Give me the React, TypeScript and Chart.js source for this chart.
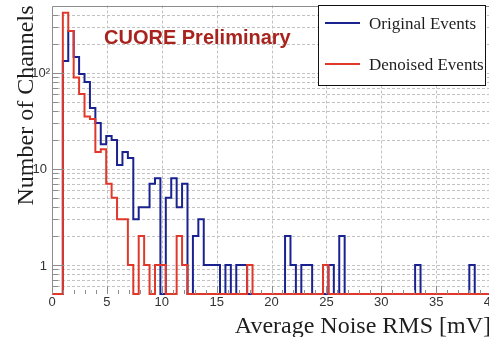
import React, { useEffect, useRef } from "react";
import { Chart, registerables } from "chart.js";

Chart.register(...registerables);

// ---- data ----
const X_MIN = 0;
const X_MAX = 40;
const Y_MIN = 0.5;
const Y_MAX = 500;
const BIN_WIDTH = 40 / 81; // histogram bin width (mV)

const X_TICK_VALUES = [0, 5, 10, 15, 20, 25, 30, 35, 40];
const X_TICK_LABELS = ["0", "5", "10", "15", "20", "25", "30", "35", "40"];
const Y_TICK_VALUES = [1, 10, 100];
const Y_TICK_LABELS = ["1", "10", "10\u00B2"];

const SERIES_LABELS = ["Original Events", "Denoised Events"];

// counts per bin, bin k spans [k*BIN_WIDTH, (k+1)*BIN_WIDTH]
const ORIGINAL_COUNTS = [
  0, 0, 132, 271, 146, 97, 80, 43, 30, 18, 22, 20, 11, 15, 13,
  3, 4, 4, 7, 8, 0, 5, 8, 4, 7, 0, 2, 3, 1, 1, 1, 0, 1, 0, 1, 1, 0,
  0, 0, 0, 0, 0, 0, 2, 1, 0, 1, 1, 0, 0, 0, 1, 0, 2,
  0, 0, 0, 0, 0, 0, 0, 0, 0, 0, 0, 0, 0, 1,
  0, 0, 0, 0, 0, 0, 0, 0, 0, 1, 0, 0, 0,
];
const DENOISED_COUNTS = [
  0, 0, 420, 271, 89, 60, 35, 33, 15, 16, 7, 5, 3, 3, 1,
  0, 2, 1, 0, 1, 1, 0, 0, 2, 1,
  0, 0, 0, 0, 0, 0, 0, 0, 0, 0, 0, 1,
  0, 0, 0, 0, 0, 0, 0, 0, 0, 0, 0, 0, 0, 1,
  0, 0, 0, 0, 0, 0, 0, 0, 0, 0, 0, 0, 0, 0, 0, 0, 0, 0, 0, 0, 0, 0, 0, 0, 0, 0, 0, 0, 0, 0,
];

const BLUE = "#1a2290";
const RED = "#e0392b";
const SANS = '"Liberation Sans", Arial, Helvetica, sans-serif';
const SERIF = '"Liberation Serif", "Times New Roman", serif';

function toSteps(counts: number[]) {
  const pts = counts.map((c, i) => ({ x: i * BIN_WIDTH, y: c > 0 ? c : Y_MIN }));
  const last = counts[counts.length - 1];
  pts.push({ x: counts.length * BIN_WIDTH, y: last > 0 ? last : Y_MIN });
  return pts;
}

function logValues() {
  const vals: { v: number; major: boolean }[] = [];
  for (let e = -1; e <= 2; e++) {
    for (let m = 1; m <= 9; m++) {
      const v = m * Math.pow(10, e);
      if (v > Y_MIN * 1.001 && v < Y_MAX * 0.999) vals.push({ v, major: m === 1 });
    }
  }
  return vals;
}

const rootStyle = {
  id: "rootStyle",
  beforeDatasetsDraw(chart: any) {
    const { ctx, chartArea: a, scales } = chart;
    const xs = scales.x;
    const ys = scales.y;
    ctx.save();
    ctx.strokeStyle = "#c2c2c2";
    ctx.lineWidth = 1;
    ctx.setLineDash([3, 2]);
    for (const v of X_TICK_VALUES) {
      if (v <= X_MIN || v >= X_MAX) continue;
      const px = Math.round(xs.getPixelForValue(v)) + 0.5;
      ctx.beginPath();
      ctx.moveTo(px, a.top);
      ctx.lineTo(px, a.bottom);
      ctx.stroke();
    }
    for (const t of logValues()) {
      const py = Math.round(ys.getPixelForValue(t.v)) + 0.5;
      ctx.beginPath();
      ctx.moveTo(a.left, py);
      ctx.lineTo(a.right, py);
      ctx.stroke();
    }
    ctx.restore();
  },
  afterDatasetsDraw(chart: any) {
    const { ctx, chartArea: a, scales } = chart;
    const xs = scales.x;
    const ys = scales.y;
    ctx.save();
    // frame
    ctx.strokeStyle = "#8c8c8c";
    ctx.lineWidth = 1;
    const L = Math.round(a.left) + 0.5;
    const T = Math.round(a.top) + 0.5;
    const B = Math.round(a.bottom) + 0.5;
    const R = Math.round(a.right) + 0.5;
    ctx.beginPath();
    ctx.moveTo(L, B);
    ctx.lineTo(L, T);
    ctx.lineTo(R, T);
    ctx.lineTo(R, B);
    ctx.stroke();
    // x ticks
    for (let v = X_MIN; v <= X_MAX; v += 1) {
      const px = Math.round(xs.getPixelForValue(v)) + 0.5;
      const len = v % 5 === 0 ? 8 : 4;
      ctx.beginPath();
      ctx.moveTo(px, a.bottom);
      ctx.lineTo(px, a.bottom - len);
      ctx.stroke();
    }
    // y ticks
    for (const t of logValues()) {
      const py = Math.round(ys.getPixelForValue(t.v)) + 0.5;
      const len = t.major ? 12 : 6;
      ctx.beginPath();
      ctx.moveTo(a.left, py);
      ctx.lineTo(a.left + len, py);
      ctx.stroke();
    }
    // tick labels
    ctx.fillStyle = "#333";
    ctx.font = `13px ${SANS}`;
    ctx.textAlign = "center";
    ctx.textBaseline = "alphabetic";
    X_TICK_VALUES.forEach((v, i) => {
      ctx.fillText(X_TICK_LABELS[i], xs.getPixelForValue(v), a.bottom + 11.5);
    });
    ctx.textAlign = "right";
    Y_TICK_VALUES.forEach((v, i) => {
      const lab = Y_TICK_LABELS[i];
      const xr = lab.length > 2 ? a.left - 2 : a.left - 5;
      ctx.fillText(lab, xr, ys.getPixelForValue(v) + 4.5);
    });
    // axis titles
    ctx.fillStyle = "#1e1e1e";
    ctx.font = `24px ${SERIF}`;
    ctx.textAlign = "right";
    ctx.fillText("Average Noise RMS [mV]", a.right, 333);
    ctx.save();
    ctx.translate(33, a.top);
    ctx.rotate(-Math.PI / 2);
    ctx.textAlign = "right";
    ctx.fillText("Number of Channels", 0, 0);
    ctx.restore();
    // annotation
    ctx.fillStyle = "#a8231d";
    ctx.font = `bold 20px ${SANS}`;
    ctx.textAlign = "left";
    ctx.fillText("CUORE Preliminary", 104, 44);
    // legend
    const lx = 318.5, ly = 5.5, lw = 167, lh = 80;
    ctx.fillStyle = "#fff";
    ctx.fillRect(lx, ly, lw, lh);
    ctx.strokeStyle = "#111";
    ctx.lineWidth = 1;
    ctx.strokeRect(lx, ly, lw, lh);
    const rows = [23, 64];
    const order = [0, 1];
    order.forEach((di, r) => {
      const ds = chart.data.datasets[di];
      ctx.strokeStyle = ds.borderColor;
      ctx.lineWidth = 2;
      ctx.beginPath();
      ctx.moveTo(325, rows[r]);
      ctx.lineTo(360, rows[r]);
      ctx.stroke();
      ctx.fillStyle = "#1e1e1e";
      ctx.font = `17px ${SERIF}`;
      ctx.textAlign = "left";
      ctx.fillText(ds.label, 369, rows[r] + 6);
    });
    ctx.restore();
  },
};

export default function App() {
  const ref = useRef<HTMLCanvasElement | null>(null);
  useEffect(() => {
    if (!ref.current) return;
    const chart = new Chart(ref.current, {
      type: "line",
      data: {
        datasets: [
          {
            label: SERIES_LABELS[0],
            data: toSteps(ORIGINAL_COUNTS),
            borderColor: BLUE,
            borderWidth: 2,
            stepped: "before",
            pointRadius: 0,
            fill: false,
            order: 1,
            clip: 4,
          } as any,
          {
            label: SERIES_LABELS[1],
            data: toSteps(DENOISED_COUNTS),
            borderColor: RED,
            borderWidth: 2,
            stepped: "before",
            pointRadius: 0,
            fill: false,
            order: 0,
            clip: 4,
          } as any,
        ],
      },
      options: {
        responsive: false,
        animation: false,
        devicePixelRatio: 1,
        events: [],
        layout: { padding: { left: 52, right: 9, top: 5.5, bottom: 43 } },
        plugins: { legend: { display: false }, tooltip: { enabled: false } },
        scales: {
          x: {
            type: "linear",
            min: X_MIN,
            max: X_MAX,
            ticks: { display: false },
            grid: { display: false, drawTicks: false },
            border: { display: false },
            afterFit: (s: any) => { s.height = 0; },
          },
          y: {
            type: "logarithmic",
            min: Y_MIN,
            max: Y_MAX,
            ticks: { display: false },
            grid: { display: false, drawTicks: false },
            border: { display: false },
            afterFit: (s: any) => { s.width = 0; },
          },
        },
      },
      plugins: [rootStyle],
    } as any);
    return () => chart.destroy();
  }, []);
  return (
    <div style={{ position: "fixed", left: 0, top: 0, width: 489, height: 337, overflow: "hidden", background: "#fff" }}>
      <canvas ref={ref} width={500} height={337} style={{ display: "block" }} />
    </div>
  );
}
